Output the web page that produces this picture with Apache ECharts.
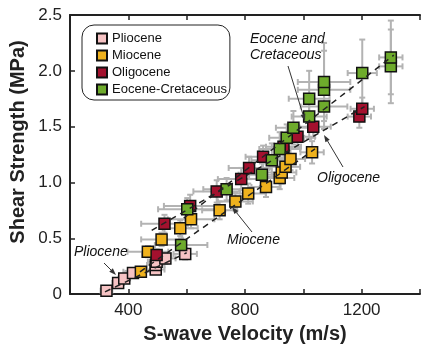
<!DOCTYPE html>
<html>
<head>
<meta charset="utf-8">
<script src="https://cdn.jsdelivr.net/npm/echarts@6/dist/echarts.min.js"></script>
<style>
  html, body { margin: 0; padding: 0; background: #fff; }
  #main { width: 423px; height: 349px; }
</style>
</head>
<body>
<div id="main"></div>
<script>
// data: velocity (m/s), strength (MPa), error half-widths
var plioV   = [325, 365, 386, 416, 494, 494, 497, 527, 595];
var plioS   = [0.03, 0.10, 0.14, 0.19, 0.22, 0.26, 0.29, 0.32, 0.36];
var plioEV  = [20, 20, 20, 25, 30, 30, 30, 35, 40];
var plioES  = [0.02, 0.03, 0.03, 0.03, 0.04, 0.04, 0.04, 0.05, 0.05];

var mioV    = [443, 467, 514, 578, 615, 713, 767, 811, 872, 919, 926, 939, 956, 1030];
var mioS    = [0.20, 0.38, 0.49, 0.59, 0.67, 0.75, 0.83, 0.90, 0.96, 1.04, 1.09, 1.14, 1.21, 1.27];
var mioEV   = [60, 70, 70, 60, 80, 60, 60, 60, 50, 50, 50, 50, 50, 40];
var mioES   = [0.04, 0.05, 0.06, 0.07, 0.08, 0.08, 0.08, 0.09, 0.09, 0.1, 0.1, 0.1, 0.1, 0.1];

var oligV   = [497, 524, 612, 703, 787, 814, 862, 932, 980, 1034, 1192, 1202];
var oligS   = [0.35, 0.63, 0.79, 0.92, 1.03, 1.13, 1.23, 1.32, 1.41, 1.50, 1.59, 1.66];
var oligEV  = [50, 80, 90, 80, 80, 70, 60, 60, 60, 60, 40, 40];
var oligES  = [0.05, 0.08, 0.1, 0.1, 0.1, 0.1, 0.1, 0.1, 0.1, 0.1, 0.1, 0.1];

var eoV     = [581, 602, 737, 858, 892, 919, 943, 966, 1020, 1071, 1020, 1071, 1071, 1202, 1300, 1300];
var eoS     = [0.44, 0.76, 0.94, 1.07, 1.20, 1.30, 1.40, 1.49, 1.59, 1.68, 1.75, 1.83, 1.90, 1.98, 2.04, 2.12];
var eoEV    = [90, 100, 80, 80, 70, 70, 60, 60, 60, 80, 70, 90, 90, 50, 40, 40];
var eoES    = [0.06, 0.1, 0.1, 0.1, 0.15, 0.15, 0.12, 0.15, 0.2, 0.2, 0.25, 0.35, 0.35, 0.3, 0.33, 0.33];

// dashed trend lines, endpoints
var plioFitV = [320, 600];   var plioFitS = [0.02, 0.37];
var mioFitV  = [440, 1040];  var mioFitS  = [0.20, 1.30];
var oligFitV = [480, 1210];  var oligFitS = [0.57, 1.68];
var eoFitV   = [590, 1310];  var eoFitS   = [0.68, 2.14];

var xTicks = [400, 800, 1200];
var names  = ['Pliocene', 'Miocene', 'Oligocene', 'Eocene-Cretaceous'];
var colors = ['#f6c3c4', '#efb21e', '#a3112e', '#6eab2c'];

var FONT = "'Liberation Sans', Arial, sans-serif";
var myChart = echarts.init(document.getElementById('main'));

function pts(v, s) {
    return v.map(function (x, i) { return [x, s[i]]; });
}
function errs(v, s, ev, es) {
    return v.map(function (x, i) { return [x, s[i], ev[i], es[i]]; });
}

function errRender(params, api) {
    var x = api.value(0), y = api.value(1), ex = api.value(2), ey = api.value(3);
    var l = api.coord([x - ex, y]), r = api.coord([x + ex, y]);
    var t = api.coord([x, y + ey]), b = api.coord([x, y - ey]);
    var cap = 3;
    var st = { stroke: '#b3b3b3', lineWidth: 2 };
    var seg = function (x1, y1, x2, y2) {
        return { type: 'line', shape: { x1: x1, y1: y1, x2: x2, y2: y2 }, style: st };
    };
    return {
        type: 'group',
        children: [
            seg(l[0], l[1], r[0], r[1]),
            seg(t[0], t[1], b[0], b[1]),
            seg(l[0], l[1] - cap, l[0], l[1] + cap),
            seg(r[0], r[1] - cap, r[0], r[1] + cap),
            seg(t[0] - cap, t[1], t[0] + cap, t[1]),
            seg(b[0] - cap, b[1], b[0] + cap, b[1])
        ]
    };
}

function arrow(x1, y1, x2, y2) {
    var a = Math.atan2(y2 - y1, x2 - x1), len = 7, w = 2.5;
    var bx = x2 - len * Math.cos(a), by = y2 - len * Math.sin(a);
    return [
        { type: 'line', z: 10, shape: { x1: x1, y1: y1, x2: bx, y2: by }, style: { stroke: '#333', lineWidth: 1 } },
        { type: 'polygon', z: 10, shape: { points: [[x2, y2], [bx - w * Math.sin(a), by + w * Math.cos(a)], [bx + w * Math.sin(a), by - w * Math.cos(a)]] }, style: { fill: '#333' } }
    ];
}

function label(text, x, y) {
    return { type: 'text', z: 10, x: x, y: y, style: { text: text, font: 'italic 14px ' + FONT, fill: '#111' } };
}

var groups = [
    [plioV, plioS, plioEV, plioES, plioFitV, plioFitS],
    [mioV, mioS, mioEV, mioES, mioFitV, mioFitS],
    [oligV, oligS, oligEV, oligES, oligFitV, oligFitS],
    [eoV, eoS, eoEV, eoES, eoFitV, eoFitS]
];

var series = [];
groups.forEach(function (g, i) {
    series.push({
        type: 'custom', name: names[i] + ' err', renderItem: errRender,
        data: errs(g[0], g[1], g[2], g[3]), encode: { x: 0, y: 1 }, z: 1, silent: true
    });
});
groups.forEach(function (g, i) {
    series.push({
        type: 'scatter', name: names[i], data: pts(g[0], g[1]),
        symbol: 'rect', symbolSize: 11, z: 2,
        itemStyle: { color: colors[i], borderColor: '#111', borderWidth: 1.5, opacity: 1 }
    });
});
groups.forEach(function (g, i) {
    series.push({
        type: 'line', data: pts(g[4], g[5]), symbol: 'none', z: 3, silent: true,
        lineStyle: { color: '#222', width: 1.5, type: [6, 5] }
    });
});

var axisLine = { show: true, lineStyle: { color: '#222', width: 2 } };

option = {
    animation: false,
    backgroundColor: '#fff',
    grid: { left: 70, top: 15, width: 356, height: 280 },
    legend: {
        data: names, orient: 'vertical', left: 82, top: 25,
        icon: 'rect', itemWidth: 10, itemHeight: 10, itemGap: 4,
        padding: [7, 3, 4, 14], borderColor: '#222', borderWidth: 1, borderRadius: 12,
        textStyle: { fontFamily: FONT, fontSize: 13, color: '#111' }
    },
    xAxis: [{
        type: 'value', min: 200, max: 1400, interval: 200, position: 'bottom',
        axisLine: axisLine, splitLine: { show: false },
        axisTick: { inside: true, length: 5, lineStyle: { color: '#222', width: 1.5 } },
        axisLabel: {
            fontFamily: FONT, fontSize: 17, color: '#222', margin: 8,
            formatter: function (v) { return xTicks.indexOf(v) >= 0 ? String(v) : ''; }
        },
        name: 'S-wave Velocity (m/s)', nameLocation: 'middle', nameGap: 27,
        nameTextStyle: { fontFamily: FONT, fontSize: 20, fontWeight: 'bold', color: '#222' }
    }, {
        type: 'value', min: 200, max: 1400, interval: 200, position: 'top',
        axisLine: axisLine, splitLine: { show: false }, axisLabel: { show: false },
        axisTick: { inside: true, length: 5, lineStyle: { color: '#222', width: 1.5 } }
    }],
    yAxis: {
        type: 'value', min: 0, max: 2.5, interval: 0.5,
        axisLine: axisLine, splitLine: { show: false },
        axisTick: { inside: true, length: 5, lineStyle: { color: '#222', width: 1.5 } },
        axisLabel: {
            fontFamily: FONT, fontSize: 17, color: '#222', margin: 8,
            formatter: function (v) { return v === 0 ? '0' : v.toFixed(1); }
        }
    },
    graphic: [
        { type: 'text', x: 18, y: 142, rotation: Math.PI / 2,
          style: { text: 'Shear Strength (MPa)', font: 'bold 20px ' + FONT, fill: '#222', textAlign: 'center', textVerticalAlign: 'middle' } },
        label('Pliocene', 74, 245),
        label('Miocene', 227, 233),
        label('Oligocene', 317, 171),
        label('Eocene and', 250, 32),
        label('Cretaceous', 250, 48)
    ].concat(arrow(104, 263, 116, 275))
     .concat(arrow(252, 232, 232, 207))
     .concat(arrow(343, 167, 324, 135))
     .concat(arrow(288, 66, 305, 121)),
    series: series
};
myChart.setOption(option);
</script>
</body>
</html>
